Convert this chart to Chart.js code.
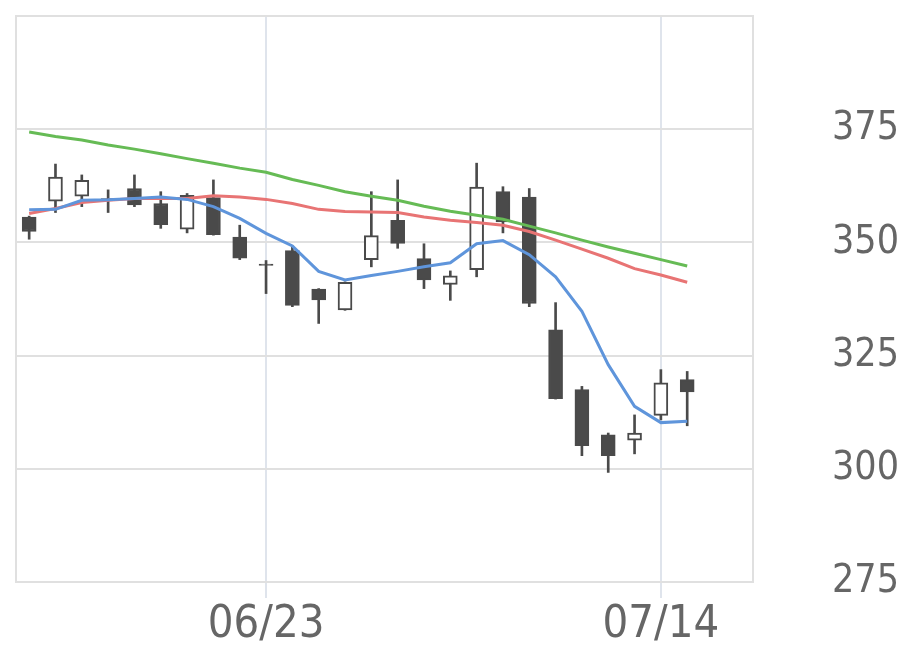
<!DOCTYPE html>
<html>
<head>
<meta charset="utf-8">
<script src="https://cdn.jsdelivr.net/npm/chart.js@4.4.0/dist/chart.umd.min.js"></script>
<style>
  html, body { margin: 0; padding: 0; background: #ffffff; }
  #wrap { width: 920px; height: 669px; position: relative; }
</style>
</head>
<body>
<div id="wrap"><canvas id="c" width="920" height="669"></canvas></div>
<script>
// ---- data ----
const dates = ['06/10','06/11','06/12','06/13','06/16','06/17','06/18','06/19','06/20','06/23',
               '06/24','06/25','06/26','06/27','06/30','07/01','07/02','07/03','07/04','07/07',
               '07/08','07/09','07/10','07/11','07/14','07/15','07/16','07/17'];
const shownTickLabels = ['06/23', '07/14'];
const yTickValues = [275, 300, 325, 350, 375];

const opens  = [355.6, 359.1, 360.2, 359.7, 361.9, 358.6, 352.9, 359.9, 351.2, 345.2,
                348.2, 339.7, 335.1, 346.2, 354.9, 346.4, 340.7, 344.0, 361.2, 360.0,
                330.7, 317.5, 307.5, 306.3, 311.8, 319.7];
const closes = [352.4, 364.4, 363.7, 359.3, 358.3, 353.9, 360.4, 351.7, 346.5, 344.9,
                336.1, 337.3, 341.2, 351.5, 349.8, 341.7, 342.6, 362.2, 354.5, 336.5,
                315.5, 305.1, 302.9, 307.9, 319.0, 317.0];
const highs  = [355.8, 367.3, 364.9, 361.6, 364.9, 361.2, 360.8, 363.8, 353.8, 346.0,
                349.2, 339.8, 341.3, 361.2, 363.8, 349.7, 343.7, 367.5, 362.3, 361.9,
                336.7, 318.2, 307.9, 311.9, 321.9, 321.5];
const lows   = [350.7, 356.6, 357.9, 356.6, 357.9, 353.1, 352.1, 351.6, 346.2, 338.7,
                335.8, 332.1, 335.0, 344.6, 348.7, 339.8, 337.2, 342.4, 352.1, 335.8,
                315.4, 302.9, 299.2, 303.3, 310.8, 309.5];
const maShort = [357.2, 357.3, 359.3, 359.4, 359.7, 360.0, 359.5, 357.9, 355.3, 352.0,
                 349.2, 343.6, 341.7, 342.7, 343.6, 344.6, 345.5, 349.7, 350.4, 347.3,
                 342.4, 334.8, 323.0, 313.8, 310.2, 310.5];
const maMid   = [356.4, 357.5, 358.8, 359.3, 359.7, 359.7, 359.7, 360.3, 360.0, 359.5,
                 358.6, 357.3, 356.8, 356.7, 356.6, 355.6, 354.9, 354.4, 353.8, 352.4,
                 350.5, 348.5, 346.5, 344.2, 342.8, 341.2];
const maLong  = [374.4, 373.4, 372.6, 371.5, 370.6, 369.6, 368.5, 367.5, 366.4, 365.5,
                 363.9, 362.6, 361.2, 360.2, 359.3, 358.0, 356.9, 356.0, 355.1, 353.6,
                 352.1, 350.5, 349.0, 347.6, 346.2, 344.8];

// ---- styling ----
const DARK = '#4a4a4a';
const FONT = "'DejaVu Sans Condensed', 'DejaVu Sans', sans-serif";

const bodies = opens.map((o, i) => [o, closes[i]]);
const wicks = lows.map((l, i) => [l, highs[i]]);
const isUp = opens.map((o, i) => closes[i] >= o);

const framePlugin = {
  id: 'frame',
  beforeDatasetsDraw(chart) {
    const a = chart.chartArea, ctx = chart.ctx;
    ctx.save();
    ctx.strokeStyle = '#e0e0e0';
    ctx.lineWidth = 2;
    ctx.strokeRect(a.left, a.top, a.right - a.left, a.bottom - a.top);
    ctx.restore();
  }
};

new Chart(document.getElementById('c'), {
  data: {
    labels: dates,
    datasets: [
      { type: 'line', data: maShort, borderColor: '#5f95db', borderWidth: 3, pointRadius: 0, tension: 0, order: 0 },
      { type: 'line', data: maMid, borderColor: '#e87474', borderWidth: 3, pointRadius: 0, tension: 0, order: 0 },
      { type: 'line', data: maLong, borderColor: '#66bb55', borderWidth: 3, pointRadius: 0, tension: 0, order: 0 },
      { type: 'bar', data: bodies, grouped: false, barThickness: 14, borderSkipped: false,
        borderWidth: 2, borderColor: DARK,
        backgroundColor: isUp.map(u => u ? '#ffffff' : DARK), order: 1 },
      { type: 'bar', data: wicks, grouped: false, barThickness: 2, borderWidth: 0,
        backgroundColor: DARK, order: 2 }
    ]
  },
  options: {
    responsive: false,
    animation: false,
    events: [],
    layout: { padding: { left: 16, top: 16, right: 21, bottom: 0 } },
    plugins: { legend: { display: false }, tooltip: { enabled: false } },
    scales: {
      x: {
        type: 'category',
        offset: true,
        grid: {
          offset: false,
          drawTicks: true,
          tickLength: 16,
          lineWidth: 2,
          color: (c) => (c.tick && shownTickLabels.includes(dates[c.tick.value])) ? '#dfe4ec' : 'rgba(0,0,0,0)',
          tickColor: (c) => (c.tick && shownTickLabels.includes(dates[c.tick.value])) ? '#dfe4ec' : 'rgba(0,0,0,0)'
        },
        border: { display: false },
        ticks: {
          autoSkip: false,
          maxRotation: 0,
          padding: 0,
          color: '#666666',
          font: { family: FONT, size: 45 },
          callback: (v) => shownTickLabels.includes(dates[v]) ? dates[v] : ''
        },
        afterFit: (s) => { s.height = 87; s.paddingLeft = 0; s.paddingRight = 0; }
      },
      y: {
        position: 'right',
        min: 275,
        max: 400,
        afterBuildTicks: (s) => { s.ticks = yTickValues.concat([400]).map(v => ({ value: v })); },
        grid: { drawTicks: false, lineWidth: 2, color: '#e0e0e0' },
        border: { display: false },
        ticks: {
          crossAlign: 'far',
          padding: 0,
          color: '#666666',
          font: { family: FONT, size: 39 },
          callback: (v) => yTickValues.includes(v) ? String(v) : ''
        },
        afterFit: (s) => { s.width = 146; s.paddingTop = 0; s.paddingBottom = 0; }
      }
    }
  },
  plugins: [framePlugin]
});
</script>
</body>
</html>
